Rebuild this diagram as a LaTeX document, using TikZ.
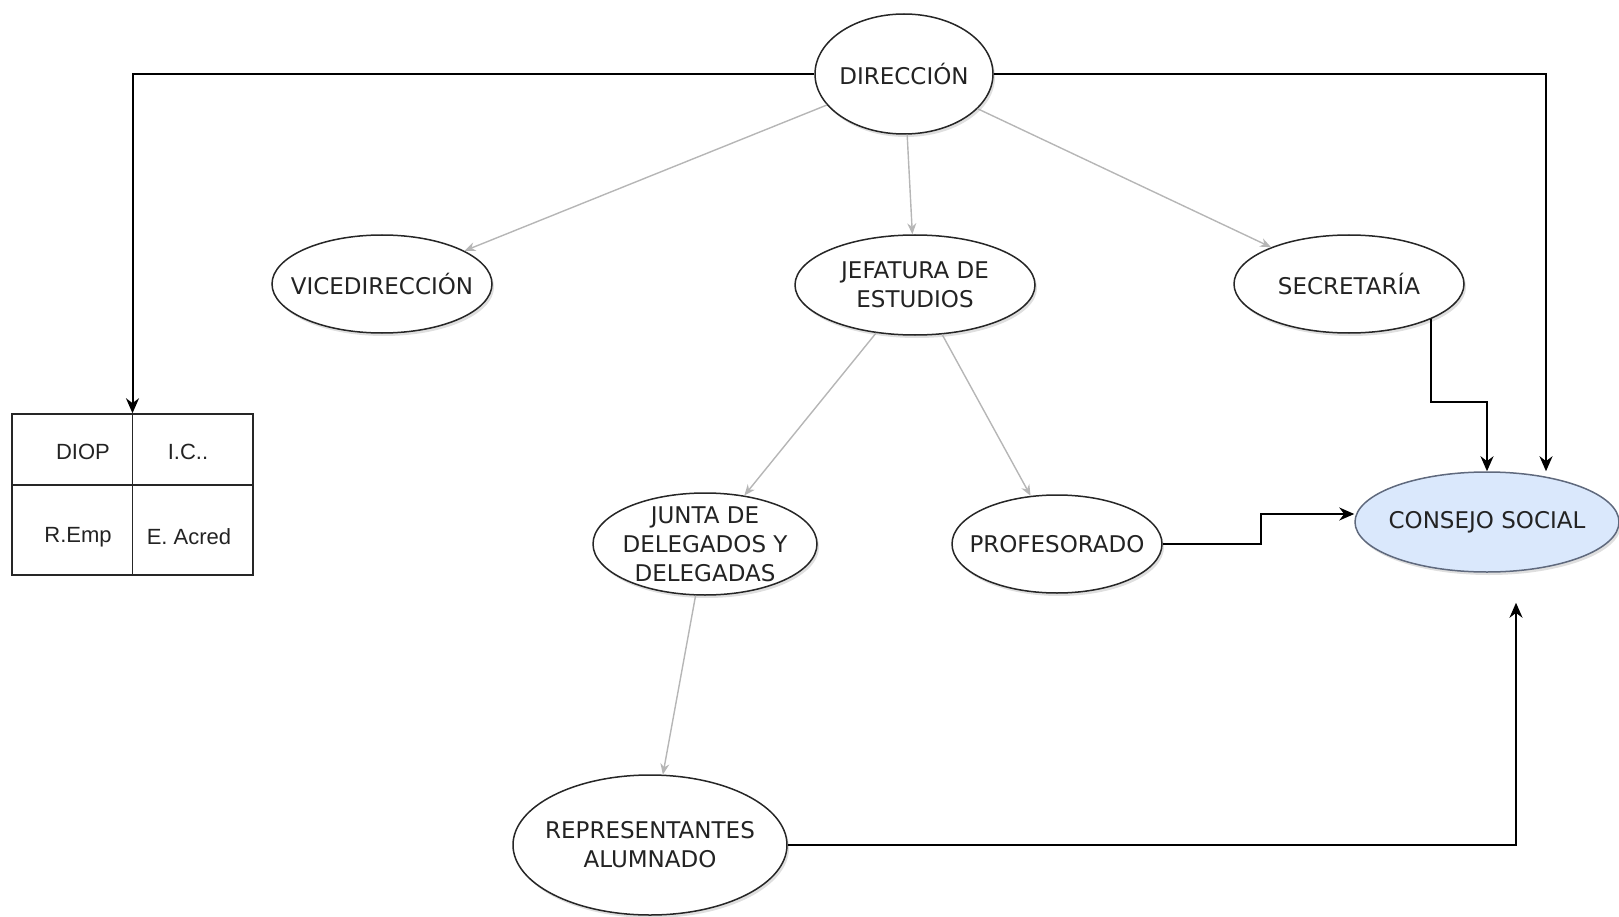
\documentclass[tikz,border=0pt]{standalone}
\usepackage{fontspec}
\setmainfont{DejaVu Sans}
\newfontfamily\arialfont{Liberation Sans}
\usetikzlibrary{shapes.geometric,arrows.meta,shadows}
\definecolor{azulcs}{RGB}{218,232,252}
\definecolor{bordecs}{RGB}{95,105,125}
\definecolor{grisflecha}{RGB}{182,182,182}
\definecolor{texto}{RGB}{35,35,35}

\begin{document}
\begin{tikzpicture}[x=1pt,y=-1pt,
	organo/.style={ellipse,draw=black!85,line width=1.5pt,fill=white,inner sep=-40pt,align=center,
		text=texto,font=\fontsize{23}{29}\selectfont,
		drop shadow={shadow xshift=2pt,shadow yshift=-3pt,opacity=0.25}},
	gris/.style={draw=grisflecha,line width=1.4pt,-{Stealth[length=11pt,width=9pt]}},
	negra/.style={draw=black,line width=2pt,-{Stealth[length=15pt,width=13pt]}},
	celda/.style={font=\arialfont\fontsize{22}{26}\selectfont,text=texto}]
		\useasboundingbox (0,0) rectangle (1619,917);
		% 绘制椭圆
		\node[organo,minimum width=178pt,minimum height=120pt] (dir) at (904,74) {DIRECCIÓN};
		\node[organo,minimum width=220pt,minimum height=98pt] (vice) at (382,284) {VICEDIRECCIÓN};
		\node[organo,minimum width=240pt,minimum height=100pt] (jef) at (915,285) {JEFATURA DE\\ESTUDIOS};
		\node[organo,minimum width=230pt,minimum height=98pt] (sec) at (1349,284) {SECRETARÍA};
		\node[organo,minimum width=224pt,minimum height=102pt] (junta) at (705,544) {JUNTA DE\\DELEGADOS Y\\DELEGADAS};
		\node[organo,minimum width=210pt,minimum height=98pt] (prof) at (1057,544) {PROFESORADO};
		\node[organo,fill=azulcs,draw=bordecs,minimum width=264pt,minimum height=100pt] (cs) at (1487,522) {CONSEJO SOCIAL};
		\node[organo,minimum width=274pt,minimum height=140pt] (rep) at (650,845) {REPRESENTANTES\\ALUMNADO};
		% 绘制表格
		\node[draw=black!85,line width=1.5pt,minimum width=241pt,minimum height=161pt,inner sep=0pt] (tab) at (132.5,494.5) {};
		\draw[black!85,line width=1.5pt] (tab.north) -- (tab.south);
		\draw[black!85,line width=1.5pt] (12,485) -- (253,485);
		\node[celda] (diop) at (83,452) {DIOP};
		\node[celda] (ic) at (188,452) {I.C..};
		\node[celda] (remp) at (78,537) {R.Emp};
		\node[celda] (eacred) at (189,537) {E. Acred};
		% 绘制灰色箭头
		\draw[gris] (dir) -- (vice);
		\draw[gris] (dir) -- (jef);
		\draw[gris] (dir) -- (sec);
		\draw[gris] (jef) -- (junta);
		\draw[gris] (jef) -- (prof);
		\draw[gris] (junta) -- (rep);
		% 绘制黑色箭头
		\draw[negra] (dir.west) -| (tab.north);
		\draw[negra] (dir.east) -| ([xshift=59pt]cs.north);
		\draw[negra] (sec.-23) -- ++(0,83) -| (cs.north);
		\draw[negra] (prof.east) -- ++(98,0) |- ([yshift=8pt]cs.west);
		\draw[negra] (rep.east) -| ([xshift=29pt,yshift=-30pt]cs.south);
	\end{tikzpicture}
\end{document}
